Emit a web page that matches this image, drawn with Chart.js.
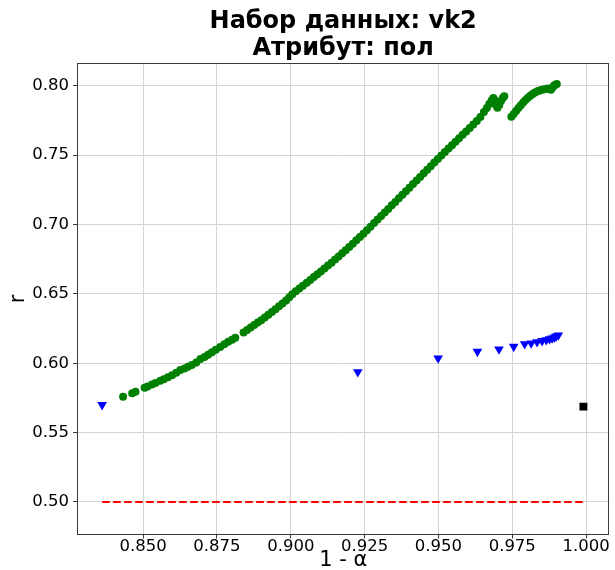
<!DOCTYPE html>
<html><head><meta charset="utf-8">
<script src="https://cdn.jsdelivr.net/npm/chart.js@4/dist/chart.umd.min.js"></script>
<style>html,body{margin:0;padding:0;background:#fff}canvas{display:block}</style>
</head><body>
<canvas id="c" width="615" height="570"></canvas>
<script>
// ---- data ----
const titleLines = ['Набор данных: vk2', 'Атрибут: пол'];
const xLabel = '1 - α';
const yLabel = 'r';
const xTicks = [0.850, 0.875, 0.900, 0.925, 0.950, 0.975, 1.000];
const yTicks = [0.50, 0.55, 0.60, 0.65, 0.70, 0.75, 0.80];

const greenX = [0.8432,0.8463,0.8474,0.8505,0.8515,0.8530,0.8542,0.8558,0.8570,0.8584,0.8598,0.8612,0.8626,0.8640,0.8652,0.8665,0.8680,0.8694,0.8708,0.8720,0.8733,0.8746,0.8761,0.8775,0.8788,0.8801,0.8812,
0.8840,0.8852,0.8864,0.8876,0.8888,0.8900,0.8912,0.8924,0.8936,0.8948,0.8960,0.8972,0.8984,0.8995,0.9005,0.9017,0.9029,0.9041,0.9054,0.9066,0.9078,0.9090,0.9102,0.9114,0.9126,0.9138,0.9150,0.9162,0.9174,0.9186,0.9198,0.9210,0.9222,0.9234,0.9246,0.9258,0.9270,
0.9282,0.9294,0.9306,0.9318,0.9330,0.9342,0.9354,0.9366,0.9378,0.9390,0.9402,0.9414,0.9426,0.9438,0.9450,0.9462,0.9474,0.9486,0.9498,0.9510,0.9522,0.9534,0.9546,0.9558,0.9570,0.9582,0.9594,0.9606,0.9618,0.9630,0.9642,0.9654,0.9664,0.9672,0.9680,0.9686,0.9691,0.9695,0.9700,0.9706,0.9712,0.9718,0.9723,
0.9747,0.9755,0.9763,0.9771,0.9779,0.9787,0.9795,0.9803,0.9811,0.9819,0.9827,0.9835,0.9843,0.9851,0.9859,0.9867,0.9875,0.9881,0.9886,0.9891,0.9896,0.9901];
const greenY = [0.5759,0.5784,0.5795,0.5824,0.5832,0.5846,0.5858,0.5873,0.5885,0.5899,0.5914,0.5932,0.5952,0.5962,0.5975,0.5988,0.6005,0.6030,0.6045,0.6062,0.6080,0.6097,0.6117,0.6136,0.6155,0.6170,0.6184,
0.6222,0.6240,0.6258,0.6275,0.6293,0.6310,0.6330,0.6350,0.6370,0.6390,0.6410,0.6430,0.6452,0.6475,0.6498,0.6518,0.6538,0.6558,0.6580,0.6600,0.6621,0.6641,0.6662,0.6683,0.6704,0.6725,0.6748,0.6770,0.6792,0.6815,0.6838,0.6862,0.6886,0.6910,0.6934,0.6958,0.6983,
0.7010,0.7036,0.7061,0.7087,0.7112,0.7138,0.7163,0.7189,0.7214,0.7240,0.7265,0.7291,0.7317,0.7343,0.7369,0.7395,0.7420,0.7446,0.7472,0.7497,0.7522,0.7547,0.7572,0.7597,0.7622,0.7646,0.7670,0.7695,0.7720,0.7746,0.7775,0.7810,0.7840,0.7868,0.7894,0.7912,0.7895,0.7860,0.7842,0.7862,0.7890,0.7912,0.7925,
0.7777,0.7797,0.7818,0.7839,0.7860,0.7880,0.7898,0.7914,0.7928,0.7940,0.7951,0.7960,0.7966,0.7971,0.7975,0.7978,0.7980,0.7972,0.7985,0.8000,0.8008,0.8012];

const blueX = [0.8361,0.9227,0.9499,0.9632,0.9705,0.9755,0.9792,0.9814,0.9834,0.9851,0.9865,0.9876,0.9885,0.9893,0.9899,0.9906];
const blueY = [0.5700,0.5937,0.6036,0.6084,0.6101,0.6120,0.6139,0.6144,0.6153,0.6161,0.6168,0.6175,0.6180,0.6187,0.6195,0.6202];

const blackX = [0.9991];
const blackY = [0.5687];

const refX = [0.8361, 0.9990];
const refY = [0.50, 0.50];

// ---- chart ----
const zip = (xs, ys) => xs.map((x, i) => ({x, y: ys[i]}));
Chart.defaults.font.family = "'DejaVu Sans', sans-serif";
Chart.defaults.color = '#000';

const framePlugin = {
  id: 'frame',
  afterDraw(chart) {
    const {ctx, chartArea: a} = chart;
    ctx.save();
    ctx.strokeStyle = '#3a3a3a';
    ctx.lineWidth = 1;
    ctx.strokeRect(Math.round(a.left) + 0.5, Math.round(a.top) + 0.5,
                   Math.round(a.right - a.left) - 1, Math.round(a.bottom - a.top) - 1);
    ctx.restore();
  }
};

new Chart(document.getElementById('c'), {
  type: 'scatter',
  data: {
    datasets: [
      {label: 'green', data: zip(greenX, greenY), order: 4,
       pointRadius: 4, pointHoverRadius: 4, backgroundColor: '#008000', borderWidth: 0},
      {label: 'ref', type: 'line', data: zip(refX, refY), order: 3, showLine: true,
       pointRadius: 0, borderColor: '#ff0000', borderWidth: 2, borderDash: [7.7, 3.3], fill: false},
      {label: 'blue', data: zip(blueX, blueY), order: 2, pointStyle: 'triangle', rotation: 180,
       pointRadius: 5.6, pointHoverRadius: 5.6, backgroundColor: '#0000ff', borderWidth: 0},
      {label: 'black', data: zip(blackX, blackY), order: 1, pointStyle: 'rect',
       pointRadius: 5.6, pointHoverRadius: 5.6, backgroundColor: '#000000', borderWidth: 0}
    ]
  },
  options: {
    responsive: false,
    animation: false,
    events: [],
    layout: {padding: {left: 0, right: 5, top: 0, bottom: 0}},
    plugins: {
      legend: {display: false},
      tooltip: {enabled: false},
      title: {
        display: true, fullSize: false, text: titleLines, color: '#000',
        font: {size: 24, weight: 'bold', lineHeight: 1.125},
        padding: {top: 8.5, bottom: 0.5}
      }
    },
    scales: {
      x: {
        type: 'linear', min: 0.8276, max: 1.0079,
        afterBuildTicks: s => { s.ticks = xTicks.map(v => ({value: v})); },
        afterFit: s => { s.height = 35; },
        ticks: {font: {size: 16.5, lineHeight: 1.0}, color: '#000', padding: 0, maxRotation: 0, autoSkip: false,
                callback: v => Number(v).toFixed(3)},
        grid: {color: '#d4d4d4', lineWidth: 1, tickLength: 3.5, tickColor: '#3a3a3a'},
        border: {display: false},
        title: {display: true, text: xLabel, color: '#000', font: {size: 21, lineHeight: 0.9}, padding: {top: 0, bottom: 0}}
      },
      y: {
        type: 'linear', min: 0.4762, max: 0.8164,
        afterBuildTicks: s => { s.ticks = yTicks.map(v => ({value: v})); },
        afterFit: s => { s.width = 77; },
        ticks: {font: {size: 16.5}, color: '#000', padding: 4, autoSkip: false,
                callback: v => Number(v).toFixed(2)},
        grid: {color: '#d4d4d4', lineWidth: 1, tickLength: 4, tickColor: '#3a3a3a'},
        border: {display: false},
        title: {display: true, text: yLabel, color: '#000', font: {size: 21}, padding: {top: 6, bottom: 0}}
      }
    }
  },
  plugins: [framePlugin]
});
</script>
</body></html>
